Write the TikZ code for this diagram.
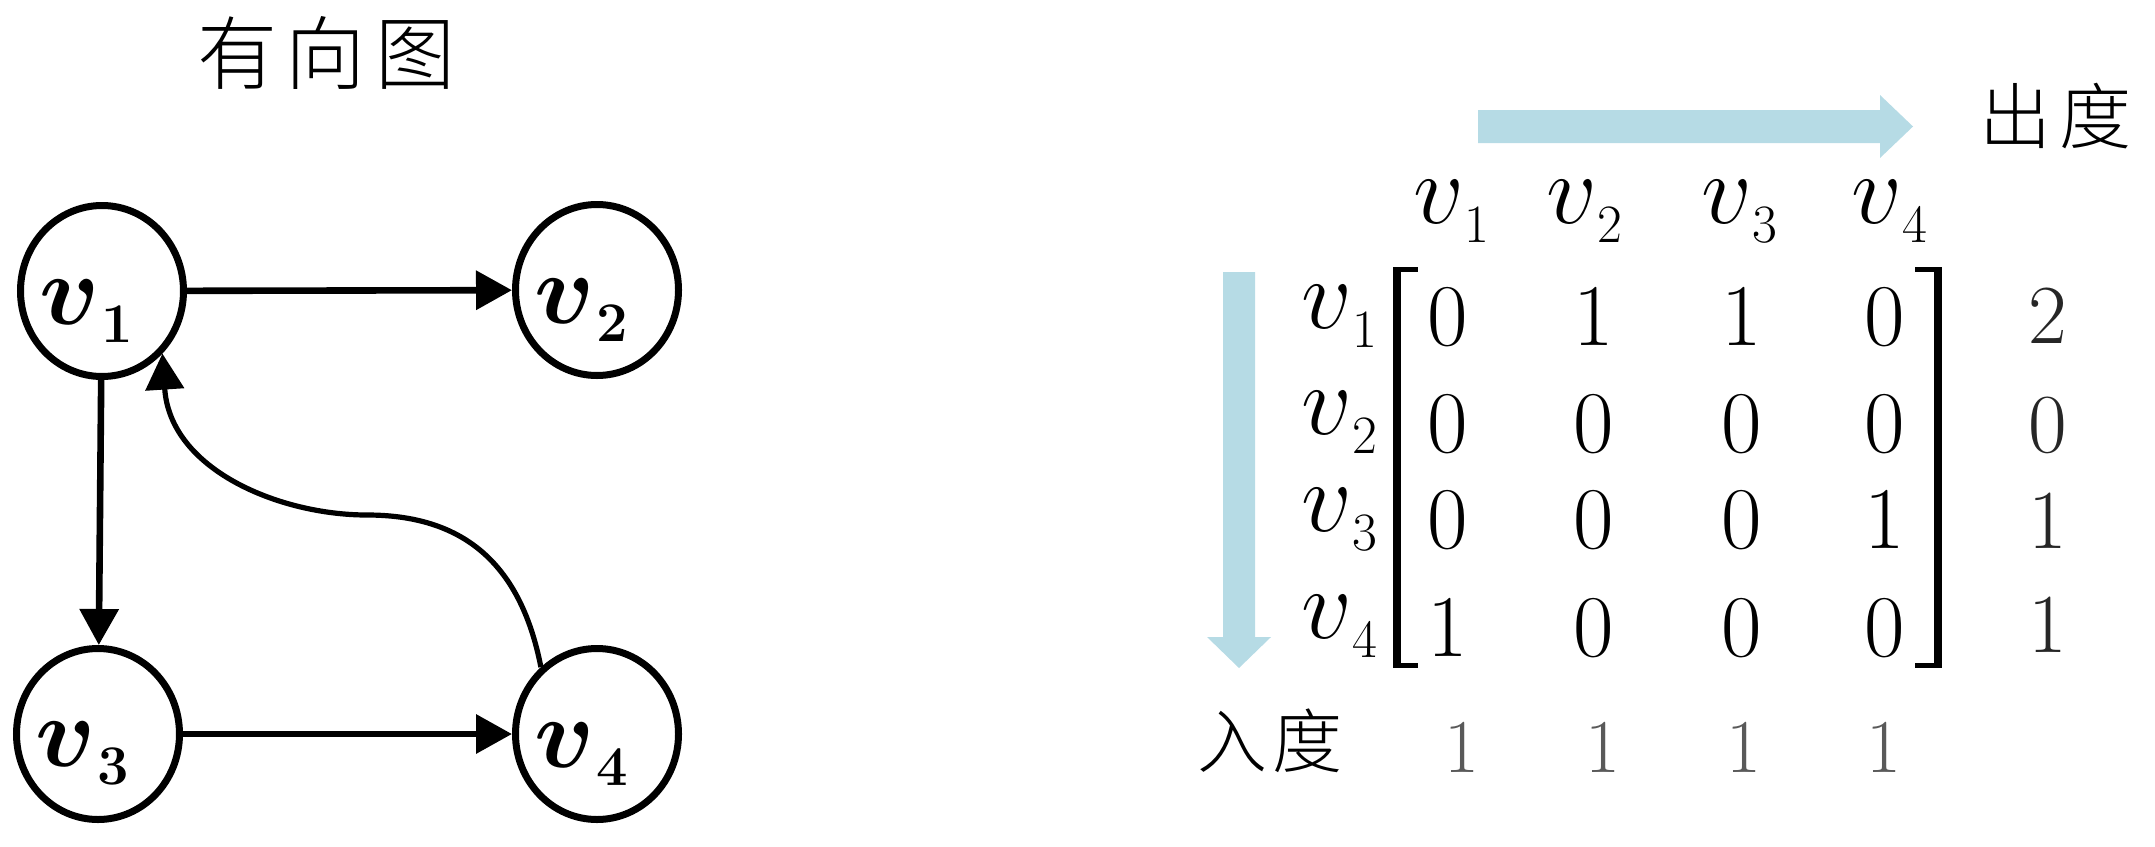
\RequirePackage{fix-cm}
\documentclass[tikz,border=0pt]{standalone}
\usepackage{amsmath,bm}
\usepackage{fontspec}
\newfontfamily\cjk{Noto Sans CJK SC}[UprightFont={* Light}]
\usetikzlibrary{arrows.meta,shapes.geometric}
\definecolor{lblue}{RGB}{182,219,229}
\newcommand{\gvlab}[1]{{\fontsize{50}{50}\selectfont$\bm{v}$}\kern1pt\raisebox{-9pt}{\fontsize{28}{28}\selectfont\bfseries #1}}
\newcommand{\mvlab}[1]{{\fontsize{50}{50}\selectfont$v$}\raisebox{-9.5pt}{\fontsize{27}{27}\selectfont #1}}
\begin{document}
\begin{tikzpicture}[x=0.5pt,y=-0.5pt,
  gnode/.style={ellipse, draw, line width=3.5pt, minimum width=81.5pt, minimum height=85.5pt, inner sep=0pt},
  glab/.style={xshift=-8pt, yshift=-10pt, inner sep=0pt},
  edge/.style={line width=3.3pt, -{Triangle[length=18pt,width=19pt]}},
  curveedge/.style={line width=2.6pt, -{Triangle[length=18pt,width=19pt]}},
  cjktext/.style={inner sep=0pt},
  mv/.style={inner sep=0pt, anchor=base},
  ent/.style={inner sep=0pt, anchor=base, font=\fontsize{44}{44}\selectfont},
  outd/.style={inner sep=0pt, anchor=base, text=black!85, font=\fontsize{42}{42}\selectfont},
  ind/.style={inner sep=0pt, anchor=base, text=black!65, font=\fontsize{38}{38}\selectfont},
  blockarrow/.style={fill=lblue, draw=none}]
\useasboundingbox (0,0) rectangle (2155,846);

% ---- directed graph ----
\node[cjktext, font=\cjk\fontsize{40}{40}\selectfont] (title) at (326,53) {有\hspace{4.5pt}向\hspace{4.5pt}图};

\node[gnode, label={[glab]center:\gvlab{1}}] (v1) at (102,291) {};
\node[gnode, label={[glab]center:\gvlab{2}}] (v2) at (597,290) {};
\node[gnode, label={[glab]center:\gvlab{3}}] (v3) at (98,734) {};
\node[gnode, label={[glab]center:\gvlab{4}}] (v4) at (597,734) {};

\draw[edge] (v1) -- (v2);
\draw[edge] (v1) -- (v3);
\draw[edge] (v3) -- (v4);
\draw[curveedge] (v4.130) .. controls (520,560) and (460,515) .. (367,515)
                 .. controls (280,515) and (170,470) .. (v1.-46);

% ---- adjacency matrix ----
\fill[blockarrow] (1478,110) -- (1880,110) -- (1880,95) -- (1913,126.5) -- (1880,158) -- (1880,143) -- (1478,143) -- cycle;
\fill[blockarrow] (1223,272) -- (1255,272) -- (1255,637) -- (1271,637) -- (1239,668) -- (1207,637) -- (1223,637) -- cycle;

\node[cjktext, font=\cjk\fontsize{36}{36}\selectfont] (outlabel) at (2055,116) {出\hspace{4pt}度};
\node[cjktext, font=\cjk\fontsize{35}{35}\selectfont] (inlabel) at (1270,741) {入\hspace{3pt}度};

\node[mv] (h1) at (1451,223) {\mvlab{1}};
\node[mv] (h2) at (1584,223) {\mvlab{2}};
\node[mv] (h3) at (1739,223) {\mvlab{3}};
\node[mv] (h4) at (1889,223) {\mvlab{4}};

\node[mv, anchor=base east] (r1) at (1378,328) {\mvlab{1}};
\node[mv, anchor=base east] (r2) at (1378,434) {\mvlab{2}};
\node[mv, anchor=base east] (r3) at (1378,531) {\mvlab{3}};
\node[mv, anchor=base east] (r4) at (1378,638) {\mvlab{4}};

% brackets
\draw[line width=4pt] (1397,267) -- (1397,668);
\draw[line width=2.5pt] (1395,269.5) -- (1418,269.5);
\draw[line width=2.5pt] (1395,665.5) -- (1418,665.5);
\draw[line width=4pt] (1938,267) -- (1938,668);
\draw[line width=2.5pt] (1915,269.5) -- (1940,269.5);
\draw[line width=2.5pt] (1915,665.5) -- (1940,665.5);

% entries
\node[ent] (m11) at (1448,345) {0};
\node[ent] (m12) at (1594,345) {1};
\node[ent] (m13) at (1742,345) {1};
\node[ent] (m14) at (1885,345) {0};
\node[ent] (m21) at (1448,452) {0};
\node[ent] (m22) at (1594,452) {0};
\node[ent] (m23) at (1742,452) {0};
\node[ent] (m24) at (1885,452) {0};
\node[ent] (m31) at (1448,548) {0};
\node[ent] (m32) at (1594,548) {0};
\node[ent] (m33) at (1742,548) {0};
\node[ent] (m34) at (1885,548) {1};
\node[ent] (m41) at (1448,656) {1};
\node[ent] (m42) at (1594,656) {0};
\node[ent] (m43) at (1742,656) {0};
\node[ent] (m44) at (1885,656) {0};

% out-degrees
\node[outd] (o1) at (2048,343) {2};
\node[outd] (o2) at (2048,452) {0};
\node[outd] (o3) at (2048,548) {1};
\node[outd] (o4) at (2048,652) {1};

% in-degrees
\node[ind] (i1) at (1462,772) {1};
\node[ind] (i2) at (1603,772) {1};
\node[ind] (i3) at (1744,772) {1};
\node[ind] (i4) at (1884,772) {1};
\end{tikzpicture}
\end{document}
